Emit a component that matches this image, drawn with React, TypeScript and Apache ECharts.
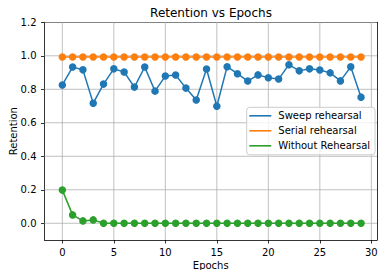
import React, { useEffect, useRef } from "react";
import * as echarts from "echarts";

const epochs = [0, 1, 2, 3, 4, 5, 6, 7, 8, 9, 10, 11, 12, 13, 14, 15, 16, 17, 18, 19, 20, 21, 22, 23, 24, 25, 26, 27, 28, 29];
const sweep = [0.826, 0.933, 0.916, 0.717, 0.831, 0.922, 0.903, 0.813, 0.933, 0.789, 0.879, 0.885, 0.807, 0.736, 0.921, 0.699, 0.935, 0.893, 0.849, 0.886, 0.869, 0.861, 0.947, 0.910, 0.922, 0.915, 0.898, 0.850, 0.934, 0.753];
const serial = [0.993, 0.993, 0.993, 0.993, 0.993, 0.993, 0.993, 0.993, 0.993, 0.993, 0.993, 0.993, 0.993, 0.993, 0.993, 0.993, 0.993, 0.993, 0.993, 0.993, 0.993, 0.993, 0.993, 0.993, 0.993, 0.993, 0.993, 0.993, 0.993, 0.993];
const without = [0.198, 0.05, 0.014, 0.02, 0, 0, 0, 0, 0, 0, 0, 0, 0, 0, 0, 0, 0, 0, 0, 0, 0, 0, 0, 0, 0, 0, 0, 0, 0, 0];
const xTicks = [0, 5, 10, 15, 20, 25, 30];
const yTicks = [0, 0.2, 0.4, 0.6, 0.8, 1.0, 1.2];
const xRange = [-1.73, 30.55];
const yRange = [-0.1, 1.2];
const seriesNames = ["Sweep rehearsal", "Serial rehearsal", "Without Rehearsal"];
const colors = ["#1f77b4", "#ff7f0e", "#2ca02c"];

const FONT = "DejaVu Sans";

export default function App() {
  const ref = useRef<HTMLDivElement>(null);
  useEffect(() => {
    if (!ref.current) return;
    const chart = echarts.init(ref.current, undefined, { renderer: "svg" });
    const mk = (name: string, vals: number[], color: string) => ({
      name,
      type: "line",
      z: 3,
      data: epochs.map((e, i) => [e, vals[i]]),
      symbol: "circle",
      symbolSize: 7.5,
      showSymbol: true,
      lineStyle: { color, width: 1.5 },
      itemStyle: { color },
      emphasis: { disabled: true },
    });
    const gridLine = (data: number[][]) => ({
      type: "line",
      z: 1,
      silent: true,
      data,
      symbol: "none",
      lineStyle: { color: "#b0b0b0", width: 0.8 },
      itemStyle: { color: "#b0b0b0" },
      emphasis: { disabled: true },
      tooltip: { show: false },
    });
    const axisCommon = {
      axisLine: { show: true, onZero: false, lineStyle: { color: "#000", width: 0.8 } },
      axisTick: { show: true, inside: false, length: 3.5, lineStyle: { color: "#000", width: 0.8 } },
      splitLine: { show: false },
      nameMoveOverlap: false,
      nameTextStyle: { fontFamily: FONT, fontSize: 10, color: "#000" },
    };
    const spine = {
      type: "value",
      axisLine: { show: true, onZero: false, lineStyle: { color: "#000", width: 0.8 } },
      axisTick: { show: false },
      axisLabel: { show: false },
      splitLine: { show: false },
    };
    chart.setOption({
      animation: false,
      title: {
        text: "Retention vs Epochs",
        left: 211,
        top: 7,
        textAlign: "center",
        padding: 0,
        textStyle: { fontFamily: FONT, fontSize: 12, fontWeight: "normal", color: "#000" },
      },
      grid: { left: 44.5, top: 22.3, right: 9, bottom: 38, containLabel: false, outerBoundsMode: "none" },
      legend: {
        data: seriesNames.map((n, i) => ({ name: n, itemStyle: { color: colors[i] } })),
        orient: "vertical",
        left: 246.7,
        top: 107.3,
        icon: "rect",
        itemWidth: 22,
        itemHeight: 1.6,
        itemGap: 3,
        padding: [2.5, 5, 3, 2.6],
        borderColor: "#cccccc",
        borderWidth: 1,
        borderRadius: 3,
        backgroundColor: "rgba(255,255,255,0.8)",
        textStyle: { fontFamily: FONT, fontSize: 10, color: "#000", lineHeight: 12, padding: [0, 0, 0, 2] },
      },
      xAxis: [
        {
          type: "value",
          min: xRange[0],
          max: xRange[1],
          name: "Epochs",
          nameLocation: "middle",
          nameGap: 20,
          ...axisCommon,
          axisTick: { ...axisCommon.axisTick, customValues: xTicks },
          axisLabel: {
            customValues: xTicks,
            margin: 7,
            fontFamily: FONT,
            fontSize: 10,
            color: "#000",
          },
        },
        { ...spine, position: "top", min: xRange[0], max: xRange[1] },
      ],
      yAxis: [
        {
          type: "value",
          min: yRange[0],
          max: yRange[1],
          name: "Retention",
          nameLocation: "middle",
          nameGap: 26,
          ...axisCommon,
          axisTick: { ...axisCommon.axisTick, customValues: yTicks },
          axisLabel: {
            customValues: yTicks,
            margin: 8,
            fontFamily: FONT,
            fontSize: 10,
            color: "#000",
            formatter: (v: number) => v.toFixed(1),
          },
        },
        { ...spine, position: "right", min: yRange[0], max: yRange[1] },
      ],
      series: [
        ...xTicks.map((v) => gridLine([[v, yRange[0]], [v, yRange[1]]])),
        ...yTicks.map((v) => gridLine([[xRange[0], v], [xRange[1], v]])),
        mk(seriesNames[0], sweep, colors[0]),
        mk(seriesNames[1], serial, colors[1]),
        mk(seriesNames[2], without, colors[2]),
      ],
    });
    return () => chart.dispose();
  }, []);
  return <div ref={ref} style={{ width: 386, height: 278, margin: -8 }} />;
}
